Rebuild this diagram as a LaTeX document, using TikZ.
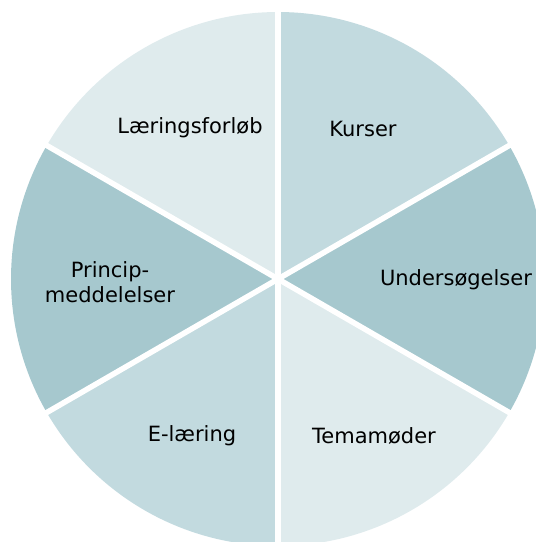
\documentclass[tikz,border=0pt]{standalone}
\usepackage{fontspec}
\setmainfont{DejaVu Sans}
\definecolor{slLight}{HTML}{DFEBED}
\definecolor{slMid}{HTML}{C2DADF}
\definecolor{slDark}{HTML}{A6C8CE}
\begin{document}
\begin{tikzpicture}[x=1pt,y=-1pt,
  lbl/.style={font=\fontsize{21}{25}\selectfont, text=black, align=center, inner sep=0pt},
  gap/.style={draw=white, line width=5.5pt}]
\useasboundingbox (0,0) rectangle (536,542);
\coordinate (c) at (278,279);
\def\R{267}
\begin{scope}
\clip (0,0) rectangle (536,542);
\fill[slMid]   (c) -- ++(-90:\R)  arc[start angle=-90,end angle=-30,radius=\R] -- cycle;
\fill[slDark]  (c) -- ++(-30:\R)  arc[start angle=-30,end angle=30,radius=\R] -- cycle;
\fill[slLight] (c) -- ++(30:\R) arc[start angle=30,end angle=90,radius=\R] -- cycle;
\fill[slMid]   (c) -- ++(90:\R) arc[start angle=90,end angle=150,radius=\R] -- cycle;
\fill[slDark]  (c) -- ++(150:\R) arc[start angle=150,end angle=210,radius=\R] -- cycle;
\fill[slLight] (c) -- ++(-150:\R) arc[start angle=-150,end angle=-90,radius=\R] -- cycle;
\foreach \a in {90,30,-30,-90,-150,150}
  \draw[gap] (c) -- ++(\a:\R+5);
\end{scope}
\node[lbl] (n1) at (190,128) {Læringsforløb};
\node[lbl] (n2) at (363,129) {Kurser};
\node[lbl] (n3) at (456,280) {Undersøgelser};
\node[lbl] (n4) at (110,282) {Princip-\\meddelelser};
\node[lbl] (n5) at (192,436) {E-læring};
\node[lbl] (n6) at (374,436) {Temamøder};
\end{tikzpicture}
\end{document}
